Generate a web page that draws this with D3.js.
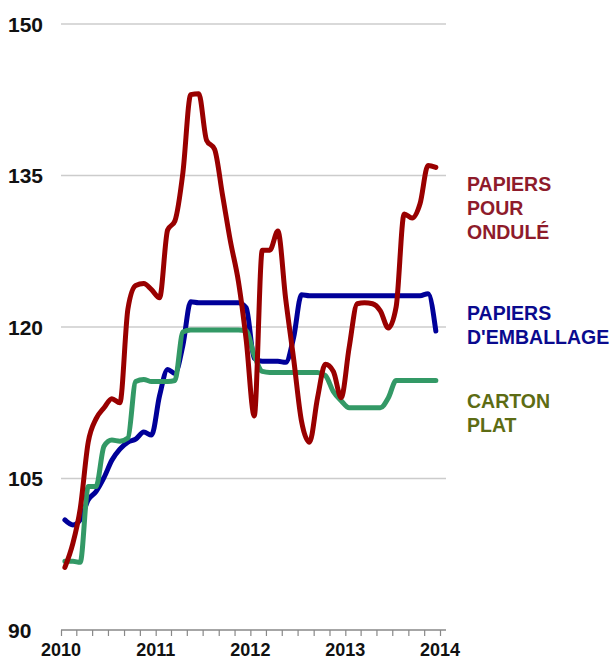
<!DOCTYPE html>
<html>
<head>
<meta charset="utf-8">
<script src="https://cdn.jsdelivr.net/npm/d3@7"></script>
<style>
  html, body { margin: 0; padding: 0; background: #ffffff; }
  svg { display: block; font-family: "Liberation Sans", Arial, sans-serif; }
</style>
</head>
<body>
<svg id="chart" width="612" height="661"></svg>
<script>
// ---- Data (monthly, Jan 2010 – Dec 2013) ----
const startYear = 2010;
const papiersOndule = [
  96.2, 98.6, 102.0, 108.6, 110.9, 112.0, 112.9, 112.5, 121.8, 124.1, 124.3, 123.7,
  122.9, 129.6, 130.5, 135.3, 143.0, 143.1, 138.5, 137.6, 133.0, 128.5, 124.5, 118.7,
  111.2, 127.6, 127.6, 129.5, 122.8, 116.8, 110.7, 108.6, 113.0, 116.3, 115.6, 113.0,
  118.0, 122.3, 122.4, 122.3, 121.6, 119.9, 122.0, 131.2, 130.8, 132.2, 136.0, 135.8
];
const papiersEmballage = [
  100.9, 100.4, 100.9, 102.9, 103.7, 105.1, 106.8, 107.9, 108.6, 108.9, 109.6, 109.3,
  113.2, 115.8, 115.4, 118.2, 122.5, 122.4, 122.4, 122.4, 122.4, 122.4, 122.4, 121.9,
  116.9, 116.6, 116.6, 116.6, 116.5, 119.0, 123.2, 123.1, 123.1, 123.1, 123.1, 123.1,
  123.1, 123.1, 123.1, 123.1, 123.1, 123.1, 123.1, 123.1, 123.1, 123.1, 123.3, 119.6
];
const cartonPlat = [
  96.8, 96.8, 96.7, 104.2, 104.2, 108.2, 108.8, 108.7, 109.0, 114.6, 114.8, 114.6,
  114.6, 114.6, 114.7, 119.5, 119.7, 119.7, 119.7, 119.7, 119.7, 119.7, 119.7, 119.6,
  117.2, 115.6, 115.5, 115.5, 115.5, 115.5, 115.5, 115.5, 115.5, 115.2, 113.6, 112.7,
  112.0, 112.0, 112.0, 112.0, 112.0, 113.0, 114.7, 114.7, 114.7, 114.7, 114.7, 114.7
];
const yTicks = [90, 105, 120, 135, 150];
const xYears = [2010, 2011, 2012, 2013, 2014];
const seriesNames = ["PAPIERS POUR ONDULÉ", "PAPIERS D'EMBALLAGE", "CARTON PLAT"];
const labelLines = [["PAPIERS", "POUR", "ONDULÉ"], ["PAPIERS", "D'EMBALLAGE"], ["CARTON", "PLAT"]];

// ---- Styling ----
const lineColors = ["#990000", "#000099", "#339966"];
const textColors = ["#8e1b2b", "#0a0a8e", "#5d6c14"];
const labelBaselines = [[191, 215, 239], [320, 344], [408, 432]];

const svg = d3.select("#chart");

const x = d3.scaleTime()
  .domain([new Date(startYear, 0, 1), new Date(2014, 0, 1)])
  .range([61, 440]);
const y = d3.scaleLinear().domain([90, 150]).range([630, 24]);
const plotRight = 446;

// gridlines
svg.append("g")
  .selectAll("line")
  .data(yTicks.filter(v => v > 90))
  .join("line")
  .attr("x1", 61).attr("x2", plotRight)
  .attr("y1", d => y(d)).attr("y2", d => y(d))
  .attr("stroke", "#cccccc").attr("stroke-width", 1.3);

// y labels
svg.append("g")
  .selectAll("text")
  .data(yTicks)
  .join("text")
  .attr("x", 8).attr("y", d => y(d))
  .attr("dy", "0.36em")
  .attr("font-size", 21).attr("font-weight", "bold").attr("fill", "#111")
  .text(d => d);

// x axis
const tickDates = d3.range(0, 49, 2).map(m => new Date(startYear, m, 1));
const xAxis = d3.axisBottom(x).tickValues(tickDates).tickSize(6).tickSizeOuter(0).tickFormat("");
const gx = svg.append("g").attr("transform", `translate(0,${y(90)})`).call(xAxis);
gx.select(".domain").attr("d", `M61,0H${plotRight}`).attr("stroke", "#888").attr("stroke-width", 1.3);
gx.selectAll(".tick line").attr("stroke", "#888").attr("stroke-width", 1.2);

svg.append("g")
  .selectAll("text")
  .data(xYears)
  .join("text")
  .attr("x", d => x(new Date(d, 0, 1)))
  .attr("y", 656)
  .attr("text-anchor", "middle")
  .attr("font-size", 18).attr("font-weight", "bold").attr("fill", "#111")
  .text(d => d);

// lines
const allSeries = [papiersOndule, papiersEmballage, cartonPlat];
const line = d3.line()
  .x((d, i) => x(new Date(startYear, i, 16)))
  .y(d => y(d))
  .curve(d3.curveMonotoneX);

const drawOrder = [1, 2, 0];
drawOrder.forEach(k => {
  svg.append("path")
    .datum(allSeries[k])
    .attr("fill", "none")
    .attr("stroke", lineColors[k])
    .attr("stroke-width", 5)
    .attr("stroke-linejoin", "round")
    .attr("stroke-linecap", "round")
    .attr("d", line)
    .append("title").text(seriesNames[k]);
});

// labels
labelLines.forEach((lines, k) => {
  const t = svg.append("text")
    .attr("font-size", 19.5).attr("font-weight", "bold").attr("fill", textColors[k]);
  lines.forEach((s, j) => {
    t.append("tspan").attr("x", 467).attr("y", labelBaselines[k][j]).text(s);
  });
});
</script>
</body>
</html>
